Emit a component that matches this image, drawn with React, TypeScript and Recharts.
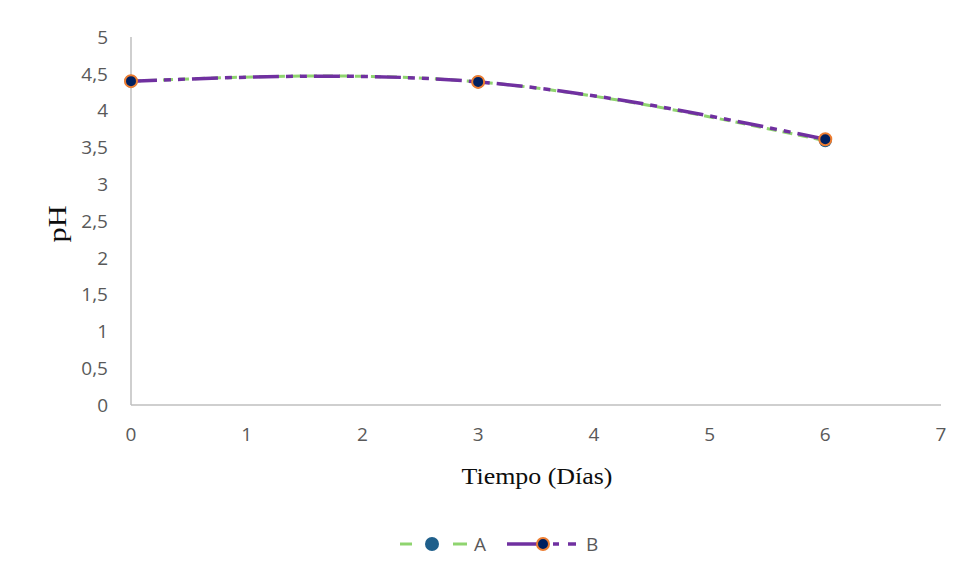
import {Line, LineChart, XAxis, YAxis, Legend} from 'recharts'

// sampling days and pH readings
const days = [0, 3, 6]
const seriesA = [4.4, 4.39, 3.59]
const seriesB = [4.4, 4.39, 3.61]
const xTicks = [0, 1, 2, 3, 4, 5, 6, 7]
const yTicks = [0, 0.5, 1, 1.5, 2, 2.5, 3, 3.5, 4, 4.5, 5]

const GREEN = '#8FD46F'
const PURPLE = '#7030A0'
const AXIS = '#BFBFBF'
const TICK = '#595959'
const SERIF = 'Liberation Serif'

const chartData = days.map((d, i) => ({x: d, a: seriesA[i], b: seriesB[i]}))

const fmt = (v: number) => String(v).replace('.', ',')

const DotA = (props: any) => {
    const {cx, cy} = props
    if (cx == null || cy == null) return null
    return <circle cx={cx} cy={cy} r={6.5} fill="#1F5F8B"/>
}

const DotB = (props: any) => {
    const {cx, cy} = props
    if (cx == null || cy == null) return null
    return <circle cx={cx} cy={cy} r={6} fill="#002060" stroke="#ED7D31" strokeWidth={2}/>
}

const CustomLegend = () => (
    <div style={{position: 'relative', height: 30, width: 968}}>
        <svg width={968} height={30} style={{position: 'absolute', left: 0, top: 0}}>
            <line x1={400} x2={412} y1={15} y2={15} stroke={GREEN} strokeWidth={3}/>
            <circle cx={432} cy={15} r={7} fill="#1F5F8B"/>
            <line x1={453} x2={467} y1={15} y2={15} stroke={GREEN} strokeWidth={3}/>
            <text x={474} y={22} fontFamily="Open Sans" fontSize={19} fill={TICK}>A</text>
            <line x1={507} x2={537} y1={15} y2={15} stroke={PURPLE} strokeWidth={3.5}/>
            <circle cx={543} cy={15} r={6} fill="#002060" stroke="#ED7D31" strokeWidth={2}/>
            <line x1={553} x2={559} y1={15} y2={15} stroke={PURPLE} strokeWidth={3.5}/>
            <line x1={568} x2={576} y1={15} y2={15} stroke={PURPLE} strokeWidth={3.5}/>
            <text x={586} y={22} fontFamily="Open Sans" fontSize={19} fill={TICK}>B</text>
        </svg>
    </div>
)

export default function App() {
    return (
        <div style={{margin: -8, width: 968, height: 579, position: 'relative', background: '#fff', overflow: 'hidden'}}>
            <div style={{position: 'absolute', left: 6, top: 6, width: 2000, height: 2000, borderLeft: '2px solid #D9D9D9', borderTop: '2px solid #D9D9D9'}}/>
            <div style={{position: 'absolute', left: 0, top: 0}}>
                <LineChart width={968} height={579} data={chartData}
                           margin={{top: 37, right: 27, bottom: 0, left: 0}}>
                    <XAxis
                        type="number"
                        dataKey="x"
                        domain={[0, 7]}
                        ticks={xTicks}
                        height={144}
                        axisLine={{stroke: AXIS, strokeWidth: 1.5}}
                        tickLine={false}
                        tickSize={0}
                        tickMargin={23}
                        tick={{fill: TICK, fontSize: 19, fontFamily: 'Open Sans'}}
                        label={{
                            content: () => (
                                <text x={537} y={484} textAnchor="middle" fontFamily={SERIF}
                                      fontSize={24} fill="#0D0D0D" textLength={151} lengthAdjust="spacingAndGlyphs">
                                    Tiempo (Días)
                                </text>
                            )
                        }}
                    />
                    <YAxis
                        type="number"
                        domain={[0, 5]}
                        ticks={yTicks}
                        width={131}
                        interval={0}
                        axisLine={{stroke: AXIS, strokeWidth: 1.5}}
                        tickLine={false}
                        tickSize={0}
                        tickMargin={23}
                        tickFormatter={fmt}
                        tick={{fill: TICK, fontSize: 19, fontFamily: 'Open Sans'}}
                        label={{
                            content: () => (
                                <text x={0} y={0} transform="translate(66 224) rotate(-90)" textAnchor="middle"
                                      fontFamily={SERIF} fontSize={26} fill="#0D0D0D"
                                      textLength={37} lengthAdjust="spacingAndGlyphs">
                                    pH
                                </text>
                            )
                        }}
                    />
                    <Line
                        dataKey="a"
                        type="natural"
                        stroke={GREEN}
                        strokeWidth={3}
                        strokeDasharray="10 6"
                        dot={<DotA/>}
                        activeDot={false}
                        isAnimationActive={false}
                    />
                    <Line
                        dataKey="b"
                        type="natural"
                        stroke={PURPLE}
                        strokeWidth={3.5}
                        strokeDasharray="26 7 7 7 7 7"
                        dot={<DotB/>}
                        activeDot={false}
                        isAnimationActive={false}
                    />
                    <Legend content={<CustomLegend/>}
                            wrapperStyle={{position: 'absolute', left: 0, top: 529, width: 968}}/>
                </LineChart>
            </div>
        </div>
    )
}
